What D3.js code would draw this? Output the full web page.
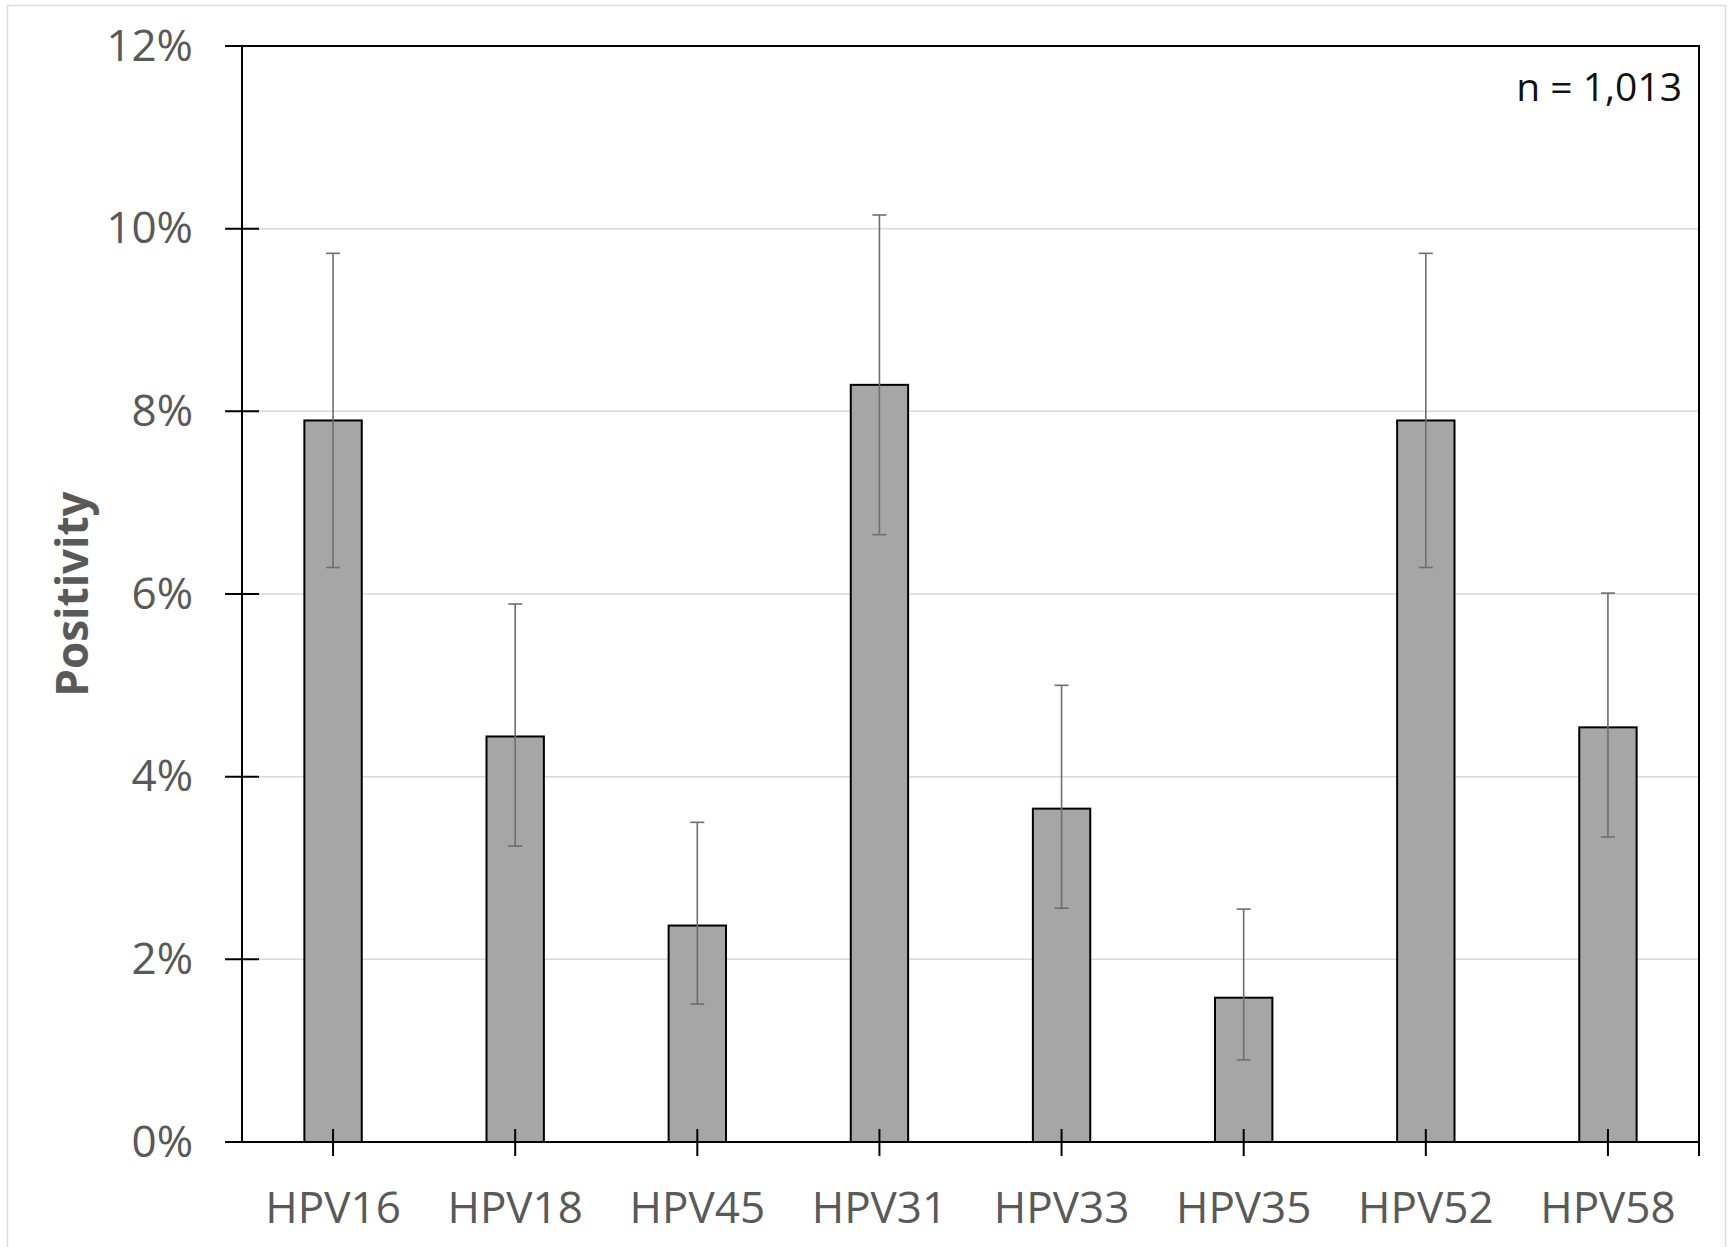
<!DOCTYPE html>
<html>
<head>
<meta charset="utf-8">
<script src="https://cdn.jsdelivr.net/npm/d3@7"></script>
<style>
  body { margin: 0; background: #fff; }
  svg { display: block; font-family: "Open Sans", "Noto Sans", sans-serif; }
</style>
</head>
<body>
<div id="chart"></div>
<script>
// HPV genotype positivity, n = 1,013
const types = ["HPV16", "HPV18", "HPV45", "HPV31", "HPV33", "HPV35", "HPV52", "HPV58"];
const positivity = [7.90, 4.44, 2.37, 8.29, 3.65, 1.58, 7.90, 4.54];
const ciLow = [6.29, 3.24, 1.51, 6.65, 2.56, 0.90, 6.29, 3.34];
const ciHigh = [9.73, 5.89, 3.50, 10.15, 5.00, 2.55, 9.73, 6.01];
const yTicks = [0, 2, 4, 6, 8, 10, 12];
const sampleLabel = "n = 1,013";

const W = 1732, H = 1247;
const margin = { top: 46, right: 33, bottom: 105, left: 242 };
const width = W - margin.left - margin.right;
const height = H - margin.top - margin.bottom;
const fontFam = '"Open Sans", "Noto Sans", sans-serif';

const svg = d3.select("#chart").append("svg")
    .attr("width", W)
    .attr("height", H);

//faint outer frame
svg.append("rect")
    .attr("x", 7.5).attr("y", 5.5)
    .attr("width", 1718).attr("height", 1260)
    .attr("fill", "none")
    .attr("stroke", "#dcdcdc")
    .attr("stroke-width", 1.5);

const g = svg.append("g")
    .attr("transform", `translate(${margin.left},${margin.top})`);

const data = types.map((t, i) => ({ type: t, value: positivity[i], lo: ciLow[i], hi: ciHigh[i] }));

const x = d3.scaleBand()
    .domain(types)
    .range([0, width])
    .paddingInner(0.685)
    .paddingOuter(0.3425);

const y = d3.scaleLinear()
    .domain([0, 12])
    .range([height, 0]);

//gridlines
g.append("g")
    .selectAll("line")
    .data(yTicks.filter(d => d > 0 && d < 12))
    .join("line")
    .attr("x1", 0).attr("x2", width)
    .attr("y1", d => y(d)).attr("y2", d => y(d))
    .attr("stroke", "#d9d9d9")
    .attr("stroke-width", 1.5);

//y axis
const yAxis = g.append("g")
    .call(d3.axisLeft(y).tickValues(yTicks).tickFormat(d => d + "%").tickSize(0).tickPadding(49))
    .attr("font-family", fontFam)
    .attr("font-size", 44);
yAxis.select(".domain").remove();
yAxis.selectAll("text")
    .attr("fill", "#595959");

//cross ticks on y axis
g.append("g")
    .selectAll("line")
    .data(yTicks)
    .join("line")
    .attr("x1", -17).attr("x2", 17)
    .attr("y1", d => y(d)).attr("y2", d => y(d))
    .attr("stroke", "#000")
    .attr("stroke-width", 2);

//bars
g.append("g")
    .selectAll("rect")
    .data(data)
    .join("rect")
    .attr("x", d => x(d.type))
    .attr("y", d => y(d.value))
    .attr("width", x.bandwidth())
    .attr("height", d => height - y(d.value))
    .attr("fill", "#a6a6a6")
    .attr("stroke", "#000")
    .attr("stroke-width", 2);

//error bars
const cx = d => x(d.type) + x.bandwidth() / 2;
const eb = g.append("g")
    .attr("stroke", "#6e6e6e")
    .attr("stroke-width", 1.6);
eb.selectAll("line.stem")
    .data(data)
    .join("line")
    .attr("class", "stem")
    .attr("x1", cx).attr("x2", cx)
    .attr("y1", d => y(d.lo)).attr("y2", d => y(d.hi));
eb.selectAll("line.capHi")
    .data(data)
    .join("line")
    .attr("class", "capHi")
    .attr("x1", d => cx(d) - 7).attr("x2", d => cx(d) + 7)
    .attr("y1", d => y(d.hi)).attr("y2", d => y(d.hi));
eb.selectAll("line.capLo")
    .data(data)
    .join("line")
    .attr("class", "capLo")
    .attr("x1", d => cx(d) - 7).attr("x2", d => cx(d) + 7)
    .attr("y1", d => y(d.lo)).attr("y2", d => y(d.lo));

//plot frame
g.append("rect")
    .attr("width", width)
    .attr("height", height)
    .attr("fill", "none")
    .attr("stroke", "#000")
    .attr("stroke-width", 2);

//x axis ticks (cross) and labels
const xAxis = g.append("g")
    .attr("transform", `translate(0,${height})`)
    .call(d3.axisBottom(x).tickSize(0).tickPadding(50))
    .attr("font-family", fontFam)
    .attr("font-size", 44);
xAxis.select(".domain").remove();
xAxis.selectAll("text")
    .attr("fill", "#595959");

g.append("g")
    .selectAll("line")
    .data(types)
    .join("line")
    .attr("x1", d => x(d) + x.bandwidth() / 2)
    .attr("x2", d => x(d) + x.bandwidth() / 2)
    .attr("y1", height - 13).attr("y2", height + 14)
    .attr("stroke", "#000")
    .attr("stroke-width", 2);

g.append("line")
    .attr("x1", width).attr("x2", width)
    .attr("y1", height).attr("y2", height + 14)
    .attr("stroke", "#000")
    .attr("stroke-width", 2);

//y axis title
svg.append("text")
    .attr("transform", `translate(88,${margin.top + height / 2}) rotate(-90)`)
    .attr("text-anchor", "middle")
    .attr("fill", "#595959")
    .style("font-size", "44px")
    .style("font-weight", "bold")
    .text("Positivity");

//sample size note
g.append("text")
    .attr("x", width - 17)
    .attr("y", 55)
    .attr("text-anchor", "end")
    .attr("fill", "#111")
    .style("font-size", "39px")
    .text(sampleLabel);
</script>
</body>
</html>
